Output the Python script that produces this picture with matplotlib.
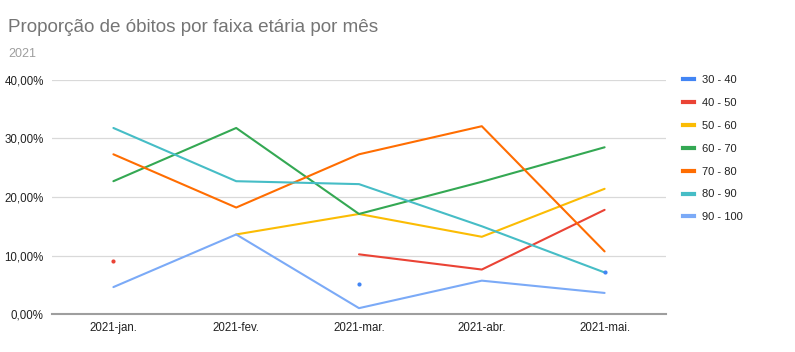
import numpy as np
import matplotlib
matplotlib.use("Agg")
import matplotlib.pyplot as plt
from matplotlib.lines import Line2D
from matplotlib.ticker import FuncFormatter

plt.rcParams['font.family'] = ['Liberation Sans', 'DejaVu Sans']

months = ["2021-jan.", "2021-fev.", "2021-mar.", "2021-abr.", "2021-mai."]
series_names = ["30 - 40", "40 - 50", "50 - 60", "60 - 70", "70 - 80", "80 - 90", "90 - 100"]
colors = ["#4285F4", "#EA4335", "#FBBC04", "#34A853", "#FF6D01", "#46BDC6", "#7BAAF7"]
nan = np.nan
s30_40 = [nan, nan, 5.1, nan, 7.1]
s40_50 = [9.1, nan, 10.2, 7.6, 17.8]
s50_60 = [nan, 13.6, 17.1, 13.2, 21.4]
s60_70 = [22.7, 31.8, 17.1, 22.6, 28.5]
s70_80 = [27.3, 18.2, 27.3, 32.1, 10.7]
s80_90 = [31.8, 22.7, 22.2, 15.0, 7.1]
s90_100 = [4.6, 13.6, 1.0, 5.7, 3.6]
all_series = [s30_40, s40_50, s50_60, s60_70, s70_80, s80_90, s90_100]

W, H = 795, 352
fig = plt.figure(figsize=(W / 100, H / 100), dpi=100)
ax = fig.add_axes([52 / W, (H - 314) / H, (666 - 52) / W, (314 - 80) / H])

x = np.arange(len(months))
for vals, c in zip(all_series, colors):
    v = np.array(vals, dtype=float)
    ax.plot(x, v, color=c, lw=1.5, solid_capstyle='round', zorder=3)
    # isolated points
    for i in range(len(v)):
        if np.isnan(v[i]):
            continue
        left = i == 0 or np.isnan(v[i - 1])
        right = i == len(v) - 1 or np.isnan(v[i + 1])
        if left and right:
            ax.plot([x[i]], [v[i]], 'o', color=c, ms=3, mec='none', zorder=4)

ax.set_xlim(-0.5, len(months) - 0.5)
ax.set_ylim(0, 40)
ax.set_yticks([0, 10, 20, 30, 40])
ax.yaxis.set_major_formatter(FuncFormatter(lambda v, p: f"{v:.2f}".replace('.', ',') + "%"))
ax.set_xticks(x)
ax.set_xticklabels(months)
ax.tick_params(axis='both', length=0, labelsize=8.3, colors='#222222')
ax.tick_params(axis='y', pad=6)
ax.tick_params(axis='x', pad=6)
ax.grid(axis='y', color='#d9d9d9', lw=0.9)
for s in ['top', 'right', 'left']:
    ax.spines[s].set_visible(False)
ax.spines['bottom'].set_color('#9e9e9e')
ax.spines['bottom'].set_linewidth(1.5)
ax.set_axisbelow(True)

fig.text(8 / W, 1 - 28 / H, "Proporção de óbitos por faixa etária por mês",
         fontsize=13.6, color='#757575', va='center', ha='left')
fig.text(8 / W, 1 - 54 / H, "2021", fontsize=9, color='#9e9e9e', va='center', ha='left')

handles = [Line2D([0], [0], color=c, lw=3) for c in colors]
leg = fig.legend(handles, series_names, loc='upper left', bbox_to_anchor=(683 / W, 1 - 75 / H),
                 frameon=False, fontsize=8, handlelength=1.0, handletextpad=0.75,
                 labelspacing=1.16, borderaxespad=0, borderpad=0)
for t in leg.get_texts():
    t.set_color('#222222')

fig.savefig("out.png", dpi=100)
